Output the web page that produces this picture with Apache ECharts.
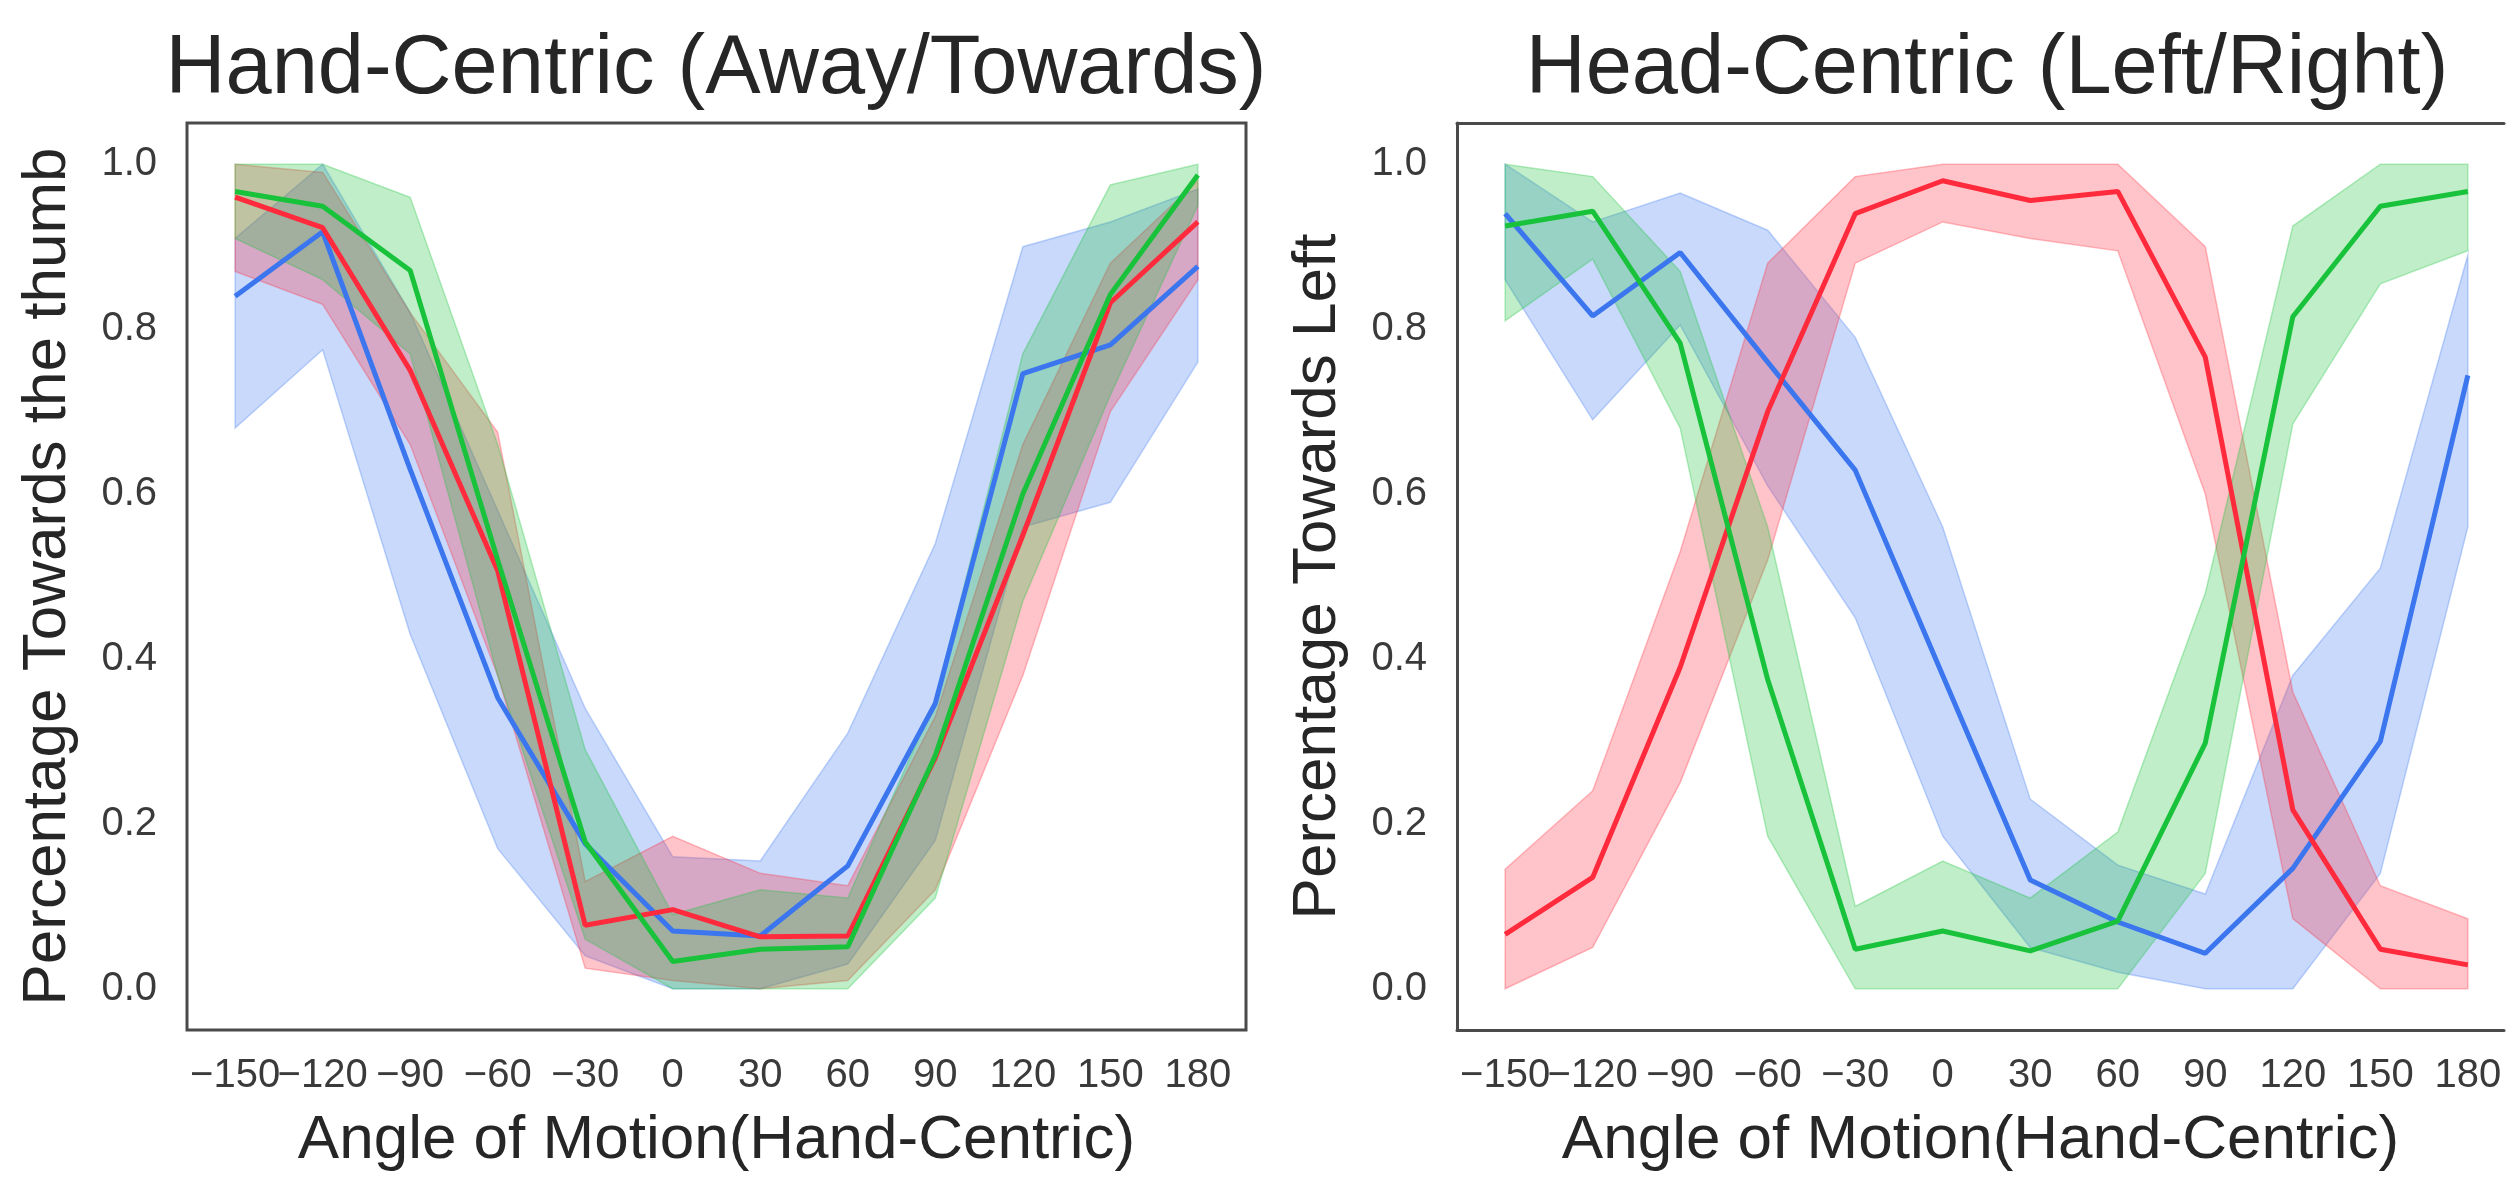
<!DOCTYPE html>
<html>
<head>
<meta charset="utf-8">
<script src="https://cdn.jsdelivr.net/npm/echarts@6/dist/echarts.min.js"></script>
<style>
  html, body { margin: 0; padding: 0; background: #fff; overflow: hidden; }
  #chart { width: 2509px; height: 1177px; }
</style>
</head>
<body>
<div id="chart"></div>
<script>
// angles on the x axis
const angles = [-150, -120, -90, -60, -30, 0, 30, 60, 90, 120, 150, 180]
// tick labels, split into two alternating rows so neighbouring labels may touch
const xTicksA = [-150, -90, -30, 30, 90, 150]
const xTicksB = [-120, -60, 0, 60, 120, 180]
const yTicks = [0, 0.2, 0.4, 0.6, 0.8, 1.0]

// Hand-Centric (Away/Towards)
const handBlue = [0.84, 0.918, 0.63, 0.353, 0.176, 0.07, 0.064, 0.149, 0.346, 0.746, 0.781, 0.876]
const handBlueHi = [0.91, 1.0, 0.82, 0.58, 0.34, 0.16, 0.155, 0.31, 0.54, 0.9, 0.93, 0.97]
const handBlueLo = [0.68, 0.775, 0.43, 0.17, 0.04, 0.0, 0.0, 0.03, 0.18, 0.56, 0.59, 0.76]
const handRed = [0.96, 0.923, 0.75, 0.507, 0.077, 0.096, 0.063, 0.064, 0.28, 0.55, 0.832, 0.93]
const handRedHi = [1.0, 0.99, 0.82, 0.675, 0.13, 0.185, 0.14, 0.125, 0.33, 0.66, 0.88, 0.98]
const handRedLo = [0.87, 0.83, 0.66, 0.38, 0.025, 0.01, 0.0, 0.01, 0.12, 0.38, 0.7, 0.86]
const handGreen = [0.967, 0.949, 0.871, 0.52, 0.178, 0.033, 0.048, 0.051, 0.283, 0.6, 0.842, 0.987]
const handGreenHi = [1.0, 1.0, 0.96, 0.66, 0.29, 0.09, 0.12, 0.11, 0.35, 0.77, 0.975, 1.0]
const handGreenLo = [0.91, 0.86, 0.77, 0.38, 0.06, 0.0, 0.0, 0.0, 0.11, 0.47, 0.72, 0.95]

// Head-Centric (Left/Right)
const headBlue = [0.94, 0.816, 0.893, 0.76, 0.629, 0.38, 0.132, 0.081, 0.043, 0.146, 0.3, 0.744]
const headBlueHi = [1.0, 0.93, 0.965, 0.92, 0.79, 0.56, 0.23, 0.15, 0.115, 0.38, 0.51, 0.89]
const headBlueLo = [0.86, 0.69, 0.805, 0.61, 0.45, 0.185, 0.05, 0.02, 0.0, 0.0, 0.14, 0.56]
const headRed = [0.066, 0.135, 0.39, 0.7, 0.94, 0.98, 0.956, 0.967, 0.766, 0.217, 0.048, 0.029]
const headRedHi = [0.145, 0.24, 0.53, 0.88, 0.985, 1.0, 1.0, 1.0, 0.9, 0.36, 0.125, 0.085]
const headRedLo = [0.0, 0.05, 0.25, 0.52, 0.88, 0.93, 0.91, 0.895, 0.6, 0.085, 0.0, 0.0]
const headGreen = [0.925, 0.943, 0.783, 0.375, 0.048, 0.07, 0.046, 0.082, 0.298, 0.815, 0.949, 0.967]
const headGreenHi = [1.0, 0.985, 0.87, 0.56, 0.1, 0.155, 0.11, 0.19, 0.48, 0.925, 1.0, 1.0]
const headGreenLo = [0.81, 0.885, 0.68, 0.185, 0.0, 0.0, 0.0, 0.0, 0.14, 0.685, 0.855, 0.895]

const BLUE = '#3b76ef'
const RED = '#ff2a3c'
const GREEN = '#19c23b'
const FONT = '"Liberation Sans", Arial, sans-serif'
const TEXT = '#262626'
const FRAME = { color: '#4a4a4a', width: 3 }

// the right panel is cut off by the picture edge: narrower grid, same scale
const X_MIN = -166.5
const X_MAX_LEFT = 196.5
const X_MAX_RIGHT = 192.39

function rgba(hex, a) {
  const n = parseInt(hex.slice(1), 16)
  return `rgba(${(n >> 16) & 255}, ${(n >> 8) & 255}, ${n & 255}, ${a})`
}

// filled band between lo and hi, drawn via the grid's coordinate system
function band(idx, lo, hi, color) {
  return {
    type: 'custom',
    xAxisIndex: idx * 3,
    yAxisIndex: idx,
    silent: true,
    data: [[angles[0], lo[0]]],
    renderItem: (params, api) => {
      const pts = []
      angles.forEach((a, i) => pts.push(api.coord([a, hi[i]])))
      for (let i = angles.length - 1; i >= 0; i--) pts.push(api.coord([angles[i], lo[i]]))
      return {
        type: 'polygon',
        shape: { points: pts },
        style: { fill: rgba(color, 0.28), stroke: rgba(color, 0.3), lineWidth: 1.5 }
      }
    }
  }
}

function line(idx, vals, color) {
  return {
    type: 'line',
    xAxisIndex: idx * 3,
    yAxisIndex: idx,
    data: angles.map((a, i) => [a, vals[i]]),
    showSymbol: false,
    silent: true,
    z: 5,
    lineStyle: { color: color, width: 5 },
    itemStyle: { color: color }
  }
}

function xAxis(idx, ticks, withName, max, showLine) {
  return {
    type: 'value',
    gridIndex: idx,
    position: 'bottom',
    offset: 0,
    min: X_MIN,
    max: max,
    name: withName ? 'Angle of Motion(Hand-Centric)' : '',
    nameLocation: 'middle',
    nameGap: 80,
    nameTextStyle: { fontSize: 62, color: TEXT, fontFamily: FONT },
    axisLine: { show: showLine, onZero: false, lineStyle: FRAME },
    axisTick: { show: false },
    splitLine: { show: false },
    axisLabel: {
      customValues: ticks,
      hideOverlap: false,
      showMinLabel: true,
      showMaxLabel: true,
      fontSize: 40,
      color: '#3a3a3a',
      fontFamily: FONT,
      margin: 26,
      formatter: v => (v < 0 ? '\u2212' + Math.abs(v) : String(v))
    }
  }
}

// top edge of the frame only
function topAxis(idx, max, showLine) {
  return {
    type: 'value',
    gridIndex: idx,
    position: 'top',
    min: X_MIN,
    max: max,
    axisLine: { show: showLine, onZero: false, lineStyle: FRAME },
    axisTick: { show: false },
    axisLabel: { show: false },
    splitLine: { show: false }
  }
}

function yAxis(idx, name, showLine) {
  return {
    type: 'value',
    gridIndex: idx,
    position: 'left',
    min: -0.05,
    max: 1.05,
    name: name,
    nameLocation: 'middle',
    nameGap: 108,
    nameTextStyle: { fontSize: 62, color: TEXT, fontFamily: FONT },
    axisLine: { show: showLine, onZero: false, lineStyle: FRAME },
    axisTick: { show: false },
    splitLine: { show: false },
    axisLabel: {
      customValues: yTicks,
      hideOverlap: false,
      fontSize: 40,
      color: '#3a3a3a',
      fontFamily: FONT,
      margin: 30,
      formatter: v => v.toFixed(1)
    }
  }
}

const chart = echarts.init(document.getElementById('chart'))

const option = {
  backgroundColor: '#ffffff',
  animation: false,
  graphic: [
    {
      type: 'text', x: 716, y: 29,
      style: { text: 'Hand-Centric (Away/Towards)', fontSize: 83, fontFamily: FONT, fill: TEXT, textAlign: 'center', textVerticalAlign: 'top' }
    },
    {
      type: 'text', x: 1987, y: 29,
      style: { text: 'Head-Centric (Left/Right)', fontSize: 83, fontFamily: FONT, fill: TEXT, textAlign: 'center', textVerticalAlign: 'top' }
    }
  ],
  grid: [
    { left: 187, top: 123, width: 1059, height: 907, show: true, borderColor: FRAME.color, borderWidth: FRAME.width, backgroundColor: 'transparent', outerBoundsMode: 'none' },
    { left: 1457, top: 123, width: 1047, height: 907, show: false, outerBoundsMode: 'none' }
  ],
  xAxis: [
    xAxis(0, xTicksA, true, X_MAX_LEFT, false), xAxis(0, xTicksB, false, X_MAX_LEFT, false), topAxis(0, X_MAX_LEFT, false),
    xAxis(1, xTicksA, true, X_MAX_RIGHT, true), xAxis(1, xTicksB, false, X_MAX_RIGHT, false), topAxis(1, X_MAX_RIGHT, true)
  ],
  yAxis: [
    yAxis(0, 'Percentage Towards the thumb', false),
    yAxis(1, 'Percentage Towards Left', true)
  ],
  series: [
    band(0, handBlueLo, handBlueHi, BLUE),
    band(0, handRedLo, handRedHi, RED),
    band(0, handGreenLo, handGreenHi, GREEN),
    line(0, handBlue, BLUE),
    line(0, handRed, RED),
    line(0, handGreen, GREEN),
    band(1, headBlueLo, headBlueHi, BLUE),
    band(1, headRedLo, headRedHi, RED),
    band(1, headGreenLo, headGreenHi, GREEN),
    line(1, headBlue, BLUE),
    line(1, headRed, RED),
    line(1, headGreen, GREEN)
  ]
}

chart.setOption(option)
</script>
</body>
</html>
